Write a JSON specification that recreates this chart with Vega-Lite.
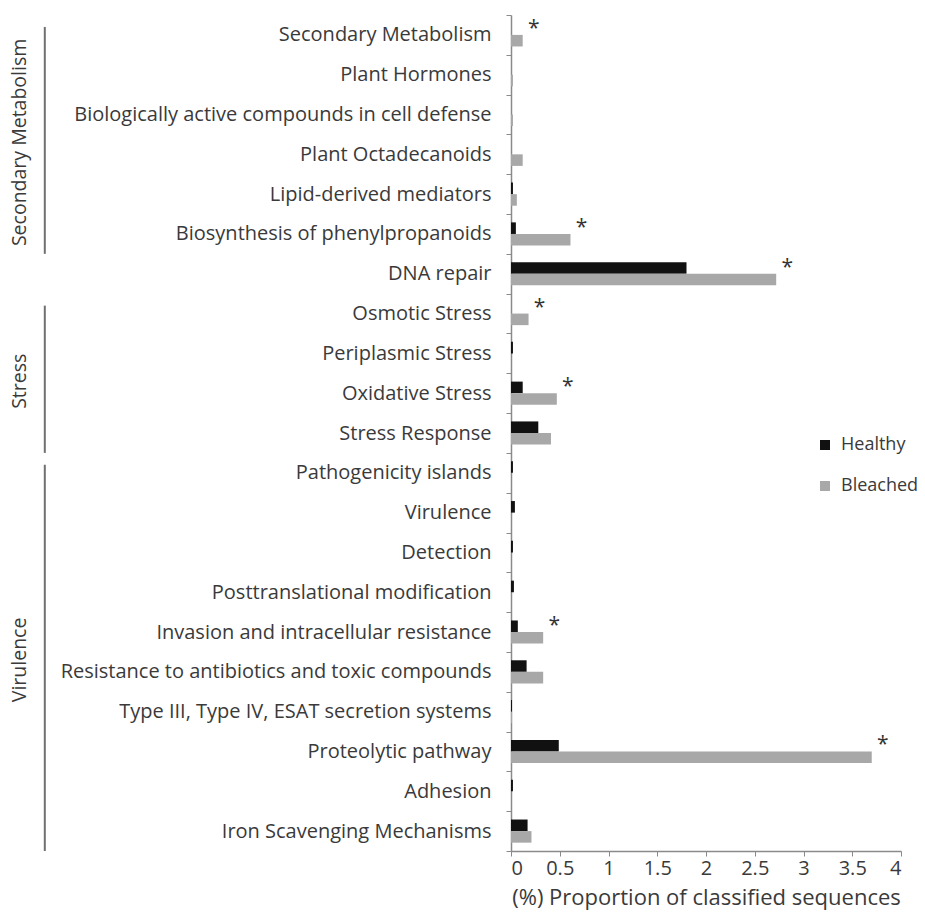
{
  "$schema": "https://vega.github.io/schema/vega-lite/v6.json",
  "background": "white",
  "autosize": {"type": "pad"},
  "padding": {"left": 8, "top": 5, "right": 0, "bottom": 6},
  "config": {
    "view": {"stroke": null},
    "font": "Open Sans",
    "axis": {
      "labelFont": "Open Sans",
      "titleFont": "Open Sans",
      "labelColor": "#3a3a3a",
      "titleColor": "#3a3a3a",
      "domainColor": "#8a8a8a",
      "tickColor": "#8a8a8a",
      "domainWidth": 1.5,
      "grid": false
    },
    "legend": {"labelFont": "Open Sans"}
  },
  "datasets": {
    "bars": [
      {"category": "Secondary Metabolism", "condition": "Healthy", "value": 0, "sig": ""},
      {"category": "Secondary Metabolism", "condition": "Bleached", "value": 0.12, "sig": "*"},
      {"category": "Plant Hormones", "condition": "Healthy", "value": 0, "sig": ""},
      {"category": "Plant Hormones", "condition": "Bleached", "value": 0.02, "sig": ""},
      {"category": "Biologically active compounds in cell defense", "condition": "Healthy", "value": 0, "sig": ""},
      {"category": "Biologically active compounds in cell defense", "condition": "Bleached", "value": 0.02, "sig": ""},
      {"category": "Plant Octadecanoids", "condition": "Healthy", "value": 0, "sig": ""},
      {"category": "Plant Octadecanoids", "condition": "Bleached", "value": 0.12, "sig": ""},
      {"category": "Lipid-derived mediators", "condition": "Healthy", "value": 0.02, "sig": ""},
      {"category": "Lipid-derived mediators", "condition": "Bleached", "value": 0.06, "sig": ""},
      {"category": "Biosynthesis of phenylpropanoids", "condition": "Healthy", "value": 0.05, "sig": ""},
      {"category": "Biosynthesis of phenylpropanoids", "condition": "Bleached", "value": 0.61, "sig": "*"},
      {"category": "DNA repair", "condition": "Healthy", "value": 1.8, "sig": ""},
      {"category": "DNA repair", "condition": "Bleached", "value": 2.72, "sig": "*"},
      {"category": "Osmotic Stress", "condition": "Healthy", "value": 0, "sig": ""},
      {"category": "Osmotic Stress", "condition": "Bleached", "value": 0.18, "sig": "*"},
      {"category": "Periplasmic Stress", "condition": "Healthy", "value": 0.02, "sig": ""},
      {"category": "Periplasmic Stress", "condition": "Bleached", "value": 0, "sig": ""},
      {"category": "Oxidative Stress", "condition": "Healthy", "value": 0.12, "sig": ""},
      {"category": "Oxidative Stress", "condition": "Bleached", "value": 0.47, "sig": "*"},
      {"category": "Stress Response", "condition": "Healthy", "value": 0.28, "sig": ""},
      {"category": "Stress Response", "condition": "Bleached", "value": 0.41, "sig": ""},
      {"category": "Pathogenicity islands", "condition": "Healthy", "value": 0.02, "sig": ""},
      {"category": "Pathogenicity islands", "condition": "Bleached", "value": 0, "sig": ""},
      {"category": "Virulence", "condition": "Healthy", "value": 0.04, "sig": ""},
      {"category": "Virulence", "condition": "Bleached", "value": 0, "sig": ""},
      {"category": "Detection", "condition": "Healthy", "value": 0.02, "sig": ""},
      {"category": "Detection", "condition": "Bleached", "value": 0, "sig": ""},
      {"category": "Posttranslational modification", "condition": "Healthy", "value": 0.03, "sig": ""},
      {"category": "Posttranslational modification", "condition": "Bleached", "value": 0, "sig": ""},
      {"category": "Invasion and intracellular resistance", "condition": "Healthy", "value": 0.07, "sig": ""},
      {"category": "Invasion and intracellular resistance", "condition": "Bleached", "value": 0.33, "sig": "*"},
      {"category": "Resistance to antibiotics and toxic compounds", "condition": "Healthy", "value": 0.16, "sig": ""},
      {"category": "Resistance to antibiotics and toxic compounds", "condition": "Bleached", "value": 0.33, "sig": ""},
      {"category": "Type III, Type IV, ESAT secretion systems", "condition": "Healthy", "value": 0.01, "sig": ""},
      {"category": "Type III, Type IV, ESAT secretion systems", "condition": "Bleached", "value": 0.01, "sig": ""},
      {"category": "Proteolytic pathway", "condition": "Healthy", "value": 0.49, "sig": ""},
      {"category": "Proteolytic pathway", "condition": "Bleached", "value": 3.7, "sig": "*"},
      {"category": "Adhesion", "condition": "Healthy", "value": 0.02, "sig": ""},
      {"category": "Adhesion", "condition": "Bleached", "value": 0, "sig": ""},
      {"category": "Iron Scavenging Mechanisms", "condition": "Healthy", "value": 0.17, "sig": ""},
      {"category": "Iron Scavenging Mechanisms", "condition": "Bleached", "value": 0.21, "sig": ""}
    ],
    "groups": [
      {"group": "Secondary Metabolism", "start": "Secondary Metabolism", "end": "Biosynthesis of phenylpropanoids", "mid": "Plant Octadecanoids"},
      {"group": "Stress", "start": "Osmotic Stress", "end": "Stress Response", "mid": "Oxidative Stress"},
      {"group": "Virulence", "start": "Pathogenicity islands", "end": "Iron Scavenging Mechanisms", "mid": "Resistance to antibiotics and toxic compounds"}
    ]
  },
  "spacing": 12,
  "resolve": {"scale": {"y": "shared"}},
  "hconcat": [
    {
      "width": 40,
      "height": 836,
      "data": {"name": "groups"},
      "layer": [
        {
          "mark": {"type": "rule", "color": "#707070", "strokeWidth": 2},
          "encoding": {
            "x": {"datum": 0.92, "type": "quantitative", "scale": {"domain": [0, 1]}, "axis": null},
            "y": {"field": "start", "type": "nominal", "bandPosition": 0.3, "axis": null},
            "y2": {"field": "end", "bandPosition": 1}
          }
        },
        {
          "mark": {"type": "text", "angle": 270, "fontSize": 19.5, "color": "#3a3a3a", "align": "center", "baseline": "middle", "font": "Open Sans"},
          "encoding": {
            "x": {"datum": 0.3, "type": "quantitative", "scale": {"domain": [0, 1]}, "axis": null},
            "y": {"field": "mid", "type": "nominal", "bandPosition": 0.2, "axis": null},
            "text": {"field": "group"}
          }
        }
      ]
    },
    {
      "width": 390,
      "height": 836,
      "data": {"name": "bars"},
      "layer": [
        {
          "mark": {"type": "bar"},
          "encoding": {
            "y": {
              "field": "category",
              "type": "nominal",
              "sort": null,
              "scale": {
                "domain": ["Secondary Metabolism", "Plant Hormones", "Biologically active compounds in cell defense", "Plant Octadecanoids", "Lipid-derived mediators", "Biosynthesis of phenylpropanoids", "DNA repair", "Osmotic Stress", "Periplasmic Stress", "Oxidative Stress", "Stress Response", "Pathogenicity islands", "Virulence", "Detection", "Posttranslational modification", "Invasion and intracellular resistance", "Resistance to antibiotics and toxic compounds", "Type III, Type IV, ESAT secretion systems", "Proteolytic pathway", "Adhesion", "Iron Scavenging Mechanisms"],
                "paddingInner": 0,
                "paddingOuter": 0
              },
              "axis": {"title": null, "tickBand": "extent", "tickSize": 5, "labelPadding": 15, "labelFontSize": 20, "labelLimit": 600}
            },
            "x": {
              "field": "value",
              "type": "quantitative",
              "scale": {"domain": [0, 4], "nice": false},
              "axis": {
                "title": "(%) Proportion of classified sequences",
                "titleFontSize": 22,
                "titleFontWeight": "normal",
                "titlePadding": 9,
                "values": [0, 0.5, 1, 1.5, 2, 2.5, 3, 3.5, 4],
                "format": "~g",
                "labelFontSize": 20,
                "tickSize": 5,
                "labelPadding": 2
              }
            },
            "yOffset": {"field": "condition", "type": "nominal", "sort": ["Healthy", "Bleached"], "scale": {"paddingInner": 0, "paddingOuter": 0.72}},
            "color": {
              "field": "condition",
              "type": "nominal",
              "scale": {"domain": ["Healthy", "Bleached"], "range": ["#111111", "#a8a8a8"]},
              "legend": {
                "title": null,
                "orient": "none",
                "legendX": 808,
                "legendY": 421,
                "symbolType": "square",
                "symbolSize": 100,
                "symbolStrokeWidth": 0,
                "labelFontSize": 18,
                "labelColor": "#3a3a3a",
                "rowPadding": 23,
                "labelOffset": 7
              }
            }
          }
        },
        {
          "transform": [{"filter": "datum.sig == '*'"}],
          "mark": {"type": "text", "fontSize": 21, "color": "#333333", "align": "center", "baseline": "middle", "dx": 11, "dy": -6, "font": "Open Sans"},
          "encoding": {
            "y": {"field": "category", "type": "nominal", "sort": null},
            "x": {"field": "value", "type": "quantitative"},
            "text": {"field": "sig"}
          }
        }
      ]
    }
  ]
}
